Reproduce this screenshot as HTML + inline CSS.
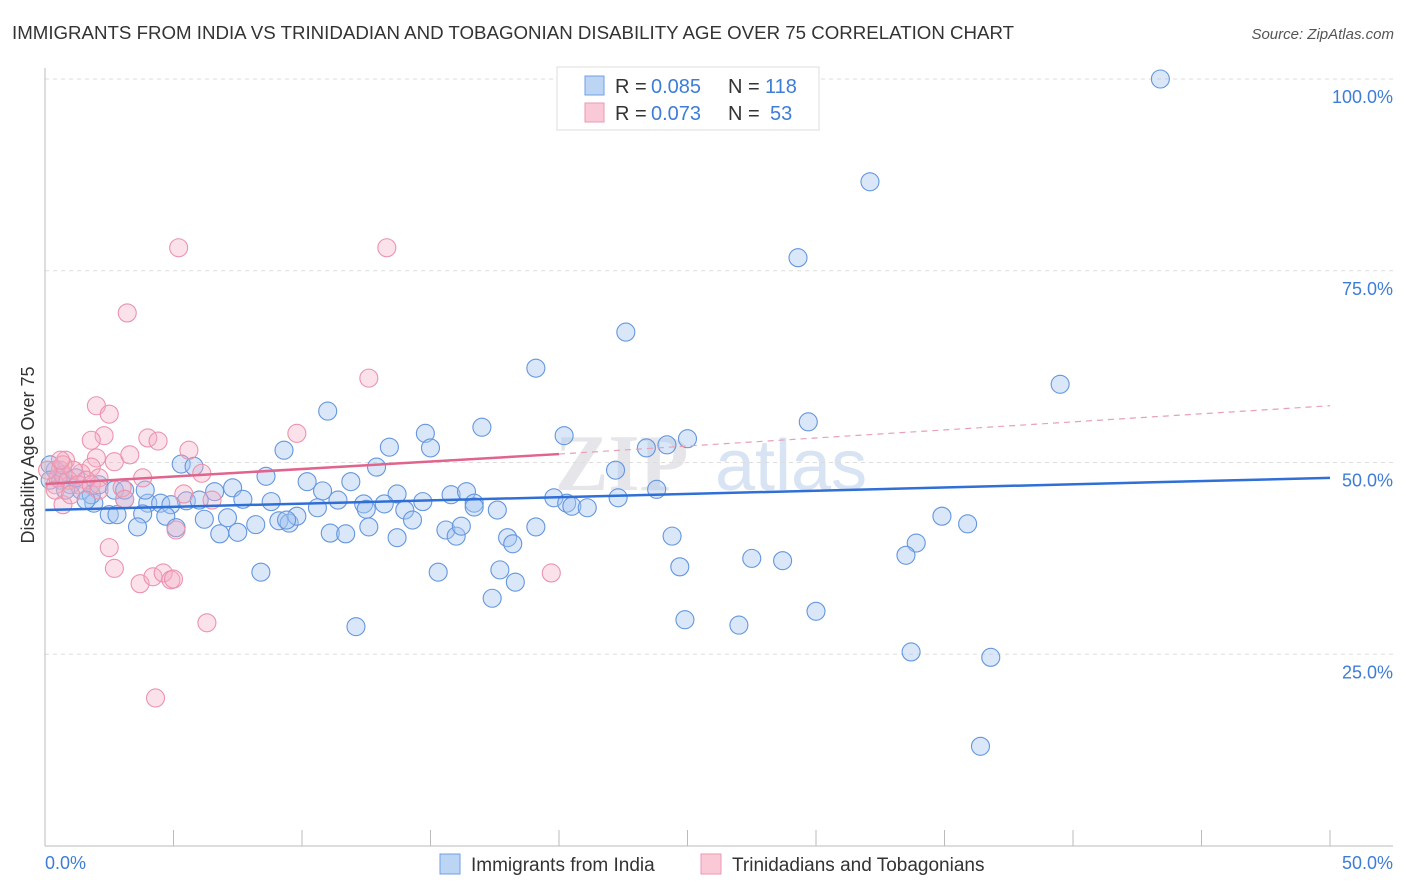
<!DOCTYPE html>
<html><head><meta charset="utf-8"><style>
body{margin:0;background:#fff;font-family:"Liberation Sans",sans-serif;}
#wrap{position:relative;width:1406px;height:892px;overflow:hidden}
</style></head><body><div id="wrap">
<svg id="svg" width="1406" height="892" xmlns="http://www.w3.org/2000/svg">
<text x="12" y="39" font-size="18.7" fill="#333">IMMIGRANTS FROM INDIA VS TRINIDADIAN AND TOBAGONIAN DISABILITY AGE OVER 75 CORRELATION CHART</text>
<text x="1394" y="39" font-size="15" fill="#555" font-style="italic" text-anchor="end">Source: ZipAtlas.com</text>
<text x="34" y="455" font-size="18" fill="#333" text-anchor="middle" transform="rotate(-90 34 455)">Disability Age Over 75</text>
<text x="555" y="490" font-size="80" fill="#e6e6ea" font-family="Liberation Serif,serif" font-weight="bold">ZIP</text>
<text x="715" y="490" font-size="72" fill="#d8e4f3">atlas</text>
<g id="grid"></g><g id="pts"></g><g id="lines"></g>
<line x1="45" y1="68" x2="45" y2="846" stroke="#bbb"/>
<line x1="45" y1="846" x2="1393" y2="846" stroke="#bbb"/>
<text x="45" y="869" font-size="18" fill="#3d7dd8">0.0%</text>
<text x="1393" y="869" font-size="18" fill="#3d7dd8" text-anchor="end">50.0%</text>
<g>
<rect x="557" y="67" width="262" height="63" fill="#fff" stroke="#ddd"/>
<rect x="585" y="76" width="19" height="19" fill="#bcd5f5" stroke="#6f9fe0"/>
<rect x="585" y="103" width="19" height="19" fill="#f9c9d7" stroke="#ea9ab2"/>
<text x="615" y="93" font-size="20" fill="#333">R =</text>
<text x="651" y="93" font-size="20" fill="#3d7dd8">0.085</text>
<text x="728" y="93" font-size="20" fill="#333">N =</text>
<text x="765" y="93" font-size="20" fill="#3d7dd8">118</text>
<text x="615" y="120" font-size="20" fill="#333">R =</text>
<text x="651" y="120" font-size="20" fill="#3d7dd8">0.073</text>
<text x="728" y="120" font-size="20" fill="#333">N =</text>
<text x="770" y="120" font-size="20" fill="#3d7dd8">53</text>
</g>
<g>
<rect x="440" y="854" width="20" height="20" fill="#bcd5f5" stroke="#6f9fe0"/>
<text x="471" y="871" font-size="19" fill="#333">Immigrants from India</text>
<rect x="701" y="854" width="20" height="20" fill="#f9c9d7" stroke="#ea9ab2"/>
<text x="732" y="871" font-size="19" fill="#333">Trinidadians and Tobagonians</text>
</g>
</svg>
<script>
const blueX=[43.4,32.1,29.3,22.6,19.1,39.5,11.0,29.7,17.0,14.8,20.2,25.0,13.4,15.0,23.4,24.2,9.3,5.3,5.8,12.9,22.2,8.6,10.2,11.9,23.8,7.3,6.6,10.8,19.8,22.3,13.7,15.8,16.4,8.8,7.7,5.5,6.0,4.0,4.5,4.9,3.1,1.9,2.5,2.8,3.8,4.7,6.2,7.1,9.1,9.5,9.8,10.6,11.4,12.4,12.5,13.2,14.0,14.3,14.7,16.7,17.6,20.3,20.5,21.1,16.7,3.6,5.1,6.8,7.5,8.2,9.4,11.1,11.7,12.6,13.7,15.6,16.0,16.2,18.0,18.2,19.1,24.4,34.9,35.9,33.9,33.5,27.5,28.7,8.4,15.3,17.7,18.3,24.7,17.4,12.1,24.9,27.0,30.0,33.7,36.8,36.4,0.4,0.6,1.0,1.4,0.8,1.8,2.1,1.6,1.2,0.2,2.7,3.1,3.9,0.2,0.7];
const blueY=[100.0,86.6,76.7,67.0,62.3,60.2,56.7,55.3,54.6,53.8,53.5,53.1,52.0,51.9,51.9,52.3,51.6,49.8,49.5,49.4,49.0,48.2,47.5,47.5,46.5,46.7,46.2,46.3,45.4,45.4,45.9,45.8,46.2,44.9,45.2,45.0,45.1,44.7,44.7,44.5,45.2,44.7,43.2,43.2,43.3,43.0,42.6,42.8,42.4,42.1,43.0,44.1,45.1,44.6,43.9,44.6,43.8,42.5,44.9,44.7,43.8,44.7,44.3,44.1,44.2,41.6,41.5,40.7,40.9,41.9,42.5,40.8,40.7,41.6,40.2,41.2,40.4,41.7,40.2,39.4,41.6,40.4,43.0,42.0,39.5,37.9,37.5,37.2,35.7,35.7,36.0,34.4,36.4,32.3,28.6,29.5,28.8,30.6,25.3,24.6,13.0,49.0,47.7,47.1,46.4,46.4,45.8,47.1,45.1,48.0,49.7,46.4,46.4,46.4,47.7,48.4];
const pinkX=[5.2,13.3,3.2,12.6,2.0,2.5,2.3,1.8,4.0,4.4,9.8,5.6,2.7,2.0,1.8,1.4,0.8,0.6,6.1,3.8,3.0,2.1,3.1,5.4,6.5,5.1,2.5,2.7,3.7,4.2,4.6,4.9,5.0,6.3,4.3,19.7,0.7,0.4,0.5,0.9,1.1,1.6,0.7,0.4,1.3,0.1,1.0,1.8,3.3,2.1,0.6];
const pinkY=[78.0,78.0,69.5,61.0,57.4,56.3,53.5,52.9,53.2,52.8,53.8,51.6,50.1,50.6,49.4,48.6,50.3,49.0,48.6,48.0,46.7,48.0,45.2,45.9,45.1,41.2,38.9,36.2,34.2,35.1,35.6,34.7,34.8,29.1,19.3,35.6,44.5,47.1,48.0,47.7,49.0,47.7,49.7,46.4,47.1,49.0,45.8,47.1,51.0,46.4,50.3];
const yTicks=[25,50,75,100];
const xTicks=[0,5,10,15,20,25,30,35,40,45,50];
const blueTrend=[[0,43.8],[50,48.0]];
const pinkTrend=[[0,47.2],[20,51.1]];
const pinkDash=[[20,51.1],[50,57.4]];
const sx=v=>45+v*25.7, sy=v=>846-v*7.67;
const NS='http://www.w3.org/2000/svg';
function mk(t,a,p){const e=document.createElementNS(NS,t);for(const k in a)e.setAttribute(k,a[k]);p.appendChild(e);return e;}
const grid=document.getElementById('grid'),pts=document.getElementById('pts'),lines=document.getElementById('lines');
yTicks.forEach(t=>{
 const l=mk('line',{x1:45,x2:1393,y1:sy(t),y2:sy(t),stroke:'#ddd','stroke-dasharray':'4,4'},grid);
 
 
 const tx=mk('text',{x:1393,y:sy(t)+24,'font-size':18,fill:'#3d7dd8','text-anchor':'end'},grid);
 tx.textContent=t.toFixed(1)+'%';
 
 
});
xTicks.forEach(t=>{
 const l=mk('line',{x1:sx(t),x2:sx(t),y1:830,y2:846,stroke:'#bbb'},grid);
 
 
});
function dots(X,Y,fill,stroke,name){X.forEach((x,i)=>{
 const c=mk('circle',{cx:sx(x),cy:sy(Y[i]),r:9,fill:fill,stroke:stroke,'stroke-width':1.1},pts);
 
 
});}
dots(blueX,blueY,'rgba(165,198,240,0.42)','#6496de','india-point');
dots(pinkX,pinkY,'rgba(245,175,198,0.36)','#eb93ad','trinidad-point');
function ln(p,col,w,dash,name){const l=mk('line',{x1:sx(p[0][0]),y1:sy(p[0][1]),x2:sx(p[1][0]),y2:sy(p[1][1]),stroke:col,'stroke-width':w},lines);
 if(dash)l.setAttribute('stroke-dasharray',dash);
 
 }
ln(blueTrend,'#2f6fd6',2.5,null,'india-trend-line');
ln(pinkTrend,'#e0648c',2.5,null,'trinidad-trend-line');
ln(pinkDash,'#e8a0b6',1.2,'6,5','trinidad-trend-extension');
</script></div></body></html>
